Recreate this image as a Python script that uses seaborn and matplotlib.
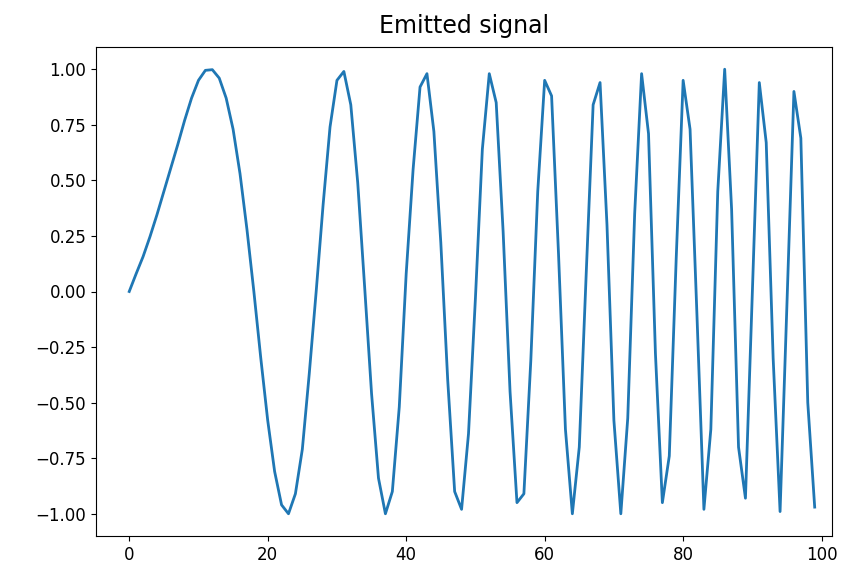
import numpy as np
import pandas as pd
import matplotlib
matplotlib.use("Agg")
import matplotlib.pyplot as plt
import seaborn as sns

# sample index and amplitude
sample = list(range(100))
amplitude = [
    0.00, 0.08, 0.157, 0.247, 0.345, 0.45, 0.555, 0.66, 0.77, 0.87,
    0.95, 0.995, 0.998, 0.96, 0.87, 0.73, 0.53, 0.28, 0.00, -0.30,
    -0.58, -0.81, -0.96, -1.00, -0.91, -0.71, -0.37, 0.00, 0.39, 0.74,
    0.95, 0.99, 0.84, 0.49, 0.02, -0.46, -0.84, -1.00, -0.90, -0.52,
    0.08, 0.55, 0.92, 0.98, 0.72, 0.22, -0.40, -0.90, -0.98, -0.64,
    -0.03, 0.64, 0.98, 0.85, 0.27, -0.45, -0.95, -0.91, -0.31, 0.45,
    0.95, 0.88, 0.17, -0.62, -1.00, -0.70, 0.08, 0.84, 0.94, 0.30,
    -0.58, -1.00, -0.57, 0.35, 0.98, 0.71, -0.28, -0.95, -0.74, 0.15,
    0.95, 0.73, -0.11, -0.98, -0.62, 0.45, 1.00, 0.37, -0.70, -0.93,
    0.00, 0.94, 0.67, -0.30, -0.99, -0.05, 0.90, 0.69, -0.50, -0.97,
]

df = pd.DataFrame({"t": sample, "signal": amplitude})

fig, ax = plt.subplots(figsize=(8.5, 5.78), dpi=100)
fig.subplots_adjust(left=96 / 850, right=832 / 850, top=1 - 47 / 578, bottom=1 - 536 / 578)

sns.lineplot(data=df, x="t", y="signal", ax=ax, color="#1f77b4", linewidth=2.0)
ax.set_xlim(-4.8, 101.5)
ax.set_xlabel("")
ax.set_ylabel("")
ax.set_title("Emitted signal", fontsize=17, pad=10)
ax.tick_params(labelsize=12)
ax.set_yticks([-1.0, -0.75, -0.5, -0.25, 0.0, 0.25, 0.5, 0.75, 1.0])

fig.savefig("out.png", dpi=100)
